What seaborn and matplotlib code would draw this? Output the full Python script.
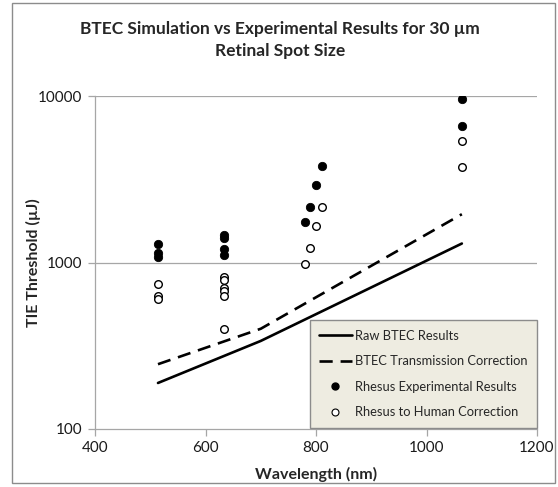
import matplotlib
matplotlib.use("Agg")
import matplotlib.pyplot as plt
from matplotlib.lines import Line2D
from matplotlib.patches import Rectangle
from matplotlib.ticker import FixedLocator, FixedFormatter, NullLocator
import seaborn as sns
import pandas as pd

# BTEC simulation curves
btec_wavelength = [514, 700, 1064]
btec_raw = [189, 338, 1300]
btec_transmission = [245, 400, 1950]

# Rhesus experimental thresholds
rhesus_wavelength = [514, 514, 514,
                     633, 633, 633, 633,
                     780, 790, 800, 810,
                     1064, 1064]
rhesus_threshold = [1300, 1140, 1080,
                    1460, 1410, 1210, 1110,
                    1750, 2150, 2930, 3800,
                    9550, 6600]

# Rhesus values scaled to human
human_wavelength = [514, 514, 514,
                    633, 633, 633, 633, 633, 633,
                    780, 790, 800, 810,
                    1064, 1064]
human_threshold = [740, 630, 600,
                   815, 785, 700, 675, 625, 400,
                   984, 1227, 1656, 2146,
                   5390, 3730]

title_lines = "BTEC Simulation vs Experimental Results for 30 \u00b5m\nRetinal Spot Size"
x_label = "Wavelength (nm)"
y_label = "TIE Threshold (\u00b5J)"
legend_labels = ["Raw BTEC Results", "BTEC Transmission Correction",
                 "Rhesus Experimental Results", "Rhesus to Human Correction"]
x_ticks = [400, 600, 800, 1000, 1200]
y_ticks = [100, 1000, 10000]

sns.set_theme(style="white")
plt.rcParams["font.family"] = ["Lato", "DejaVu Sans"]

btec_df = pd.DataFrame({"wavelength": btec_wavelength,
                        "raw": btec_raw,
                        "transmission": btec_transmission})
rhesus_df = pd.DataFrame({"wavelength": rhesus_wavelength, "threshold": rhesus_threshold})
human_df = pd.DataFrame({"wavelength": human_wavelength, "threshold": human_threshold})

fig = plt.figure(figsize=(5.58, 4.87), dpi=100)
ax = fig.add_axes([95 / 558, 58 / 487, 442 / 558, 333 / 487])

grid_gray = "#a6a6a6"
dash_pattern = [5.0, 3.0]

sns.lineplot(data=btec_df, x="wavelength", y="raw", ax=ax, color="black",
             linewidth=1.9, sort=True, zorder=3)
sns.lineplot(data=btec_df, x="wavelength", y="transmission", ax=ax, color="black",
             linewidth=1.9, sort=True, zorder=3)
ax.lines[-1].set_dashes(dash_pattern)
sns.scatterplot(data=rhesus_df, x="wavelength", y="threshold", ax=ax, color="black",
                s=36, edgecolor="black", linewidth=0.6, zorder=4)
sns.scatterplot(data=human_df, x="wavelength", y="threshold", ax=ax, color="white",
                s=30, edgecolor="black", linewidth=1.0, zorder=4)

ax.set_yscale("log")
ax.set_xlim(400, 1200)
ax.set_ylim(100, 10000)
ax.xaxis.set_major_locator(FixedLocator(x_ticks))
ax.xaxis.set_major_formatter(FixedFormatter([str(t) for t in x_ticks]))
ax.yaxis.set_major_locator(FixedLocator(y_ticks))
ax.yaxis.set_major_formatter(FixedFormatter([str(t) for t in y_ticks]))
ax.yaxis.set_minor_locator(NullLocator())

for y in y_ticks[1:]:
    ax.axhline(y, color=grid_gray, linewidth=0.9, zorder=1)

for side in ("top", "right"):
    ax.spines[side].set_visible(False)
for side in ("left", "bottom"):
    ax.spines[side].set_color(grid_gray)
    ax.spines[side].set_linewidth(0.9)

ax.tick_params(axis="both", which="major", direction="out", length=5, width=0.9,
               color=grid_gray, labelsize=11, labelcolor="#1a1a1a", pad=4,
               bottom=True, left=True)

ax.set_xlabel(x_label, fontsize=11.5, fontweight="bold", labelpad=8)
ax.set_ylabel(y_label, fontsize=11.5, fontweight="bold", labelpad=-2)

handles = [
    Line2D([], [], color="black", linewidth=1.9),
    Line2D([], [], color="black", linewidth=1.9, dashes=dash_pattern),
    Line2D([], [], color="black", marker="o", linestyle="none", markersize=5),
    Line2D([], [], color="black", marker="o", markerfacecolor="white",
           markeredgewidth=0.8, linestyle="none", markersize=5),
]
leg = ax.legend(handles, legend_labels, loc="lower right", bbox_to_anchor=(1.0, 0.003),
                borderaxespad=0, fontsize=9.3, frameon=True, fancybox=False,
                facecolor="#eeece1", edgecolor="#8c8c8c", framealpha=1,
                handlelength=2.5, handletextpad=0.25, labelspacing=1.05,
                borderpad=0.75)
leg.get_frame().set_linewidth(1.0)
leg.set_zorder(5)

fig.text(0.502, 1 - 21 / 487, title_lines, ha="center", va="top",
         fontsize=12.5, fontweight="bold", linespacing=1.45)

fig.patches.append(Rectangle((12 / 558, 4 / 487), 543 / 558, 480 / 487,
                             transform=fig.transFigure, fill=False,
                             edgecolor="#8c8c8c", linewidth=1.0))

fig.savefig("out.png", dpi=100)
